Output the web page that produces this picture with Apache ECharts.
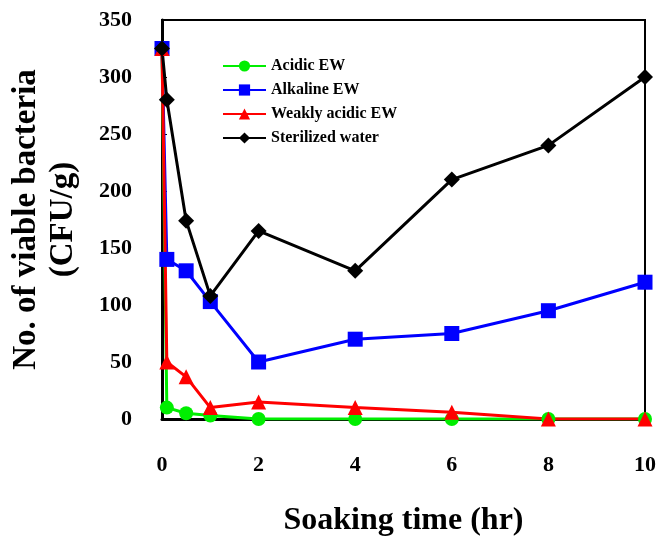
<!DOCTYPE html>
<html>
<head>
<meta charset="utf-8">
<script src="https://cdn.jsdelivr.net/npm/echarts@6/dist/echarts.min.js"></script>
<style>html,body{margin:0;padding:0;background:#fff;}#c{width:659px;height:542px;}</style>
</head>
<body>
<div id="c"></div>
<script>
var times = [0, 0.1, 0.5, 1, 2, 4, 6, 8, 10];
var acidic = [325, 10, 5, 3, 0, 0, 0, 0, 0];
var alkaline = [325, 140, 130, 103, 50, 70, 75, 95, 120];
var weaklyAcidic = [325, 50, 37, 10, 15, 10, 6, 0, 0];
var sterilized = [325, 280, 174, 108, 165, 130, 210, 240, 300];
var seriesNames = ['Acidic EW', 'Alkaline EW', 'Weakly acidic EW', 'Sterilized water'];
var xTicks = [0, 2, 4, 6, 8, 10];
var yTicks = [0, 50, 100, 150, 200, 250, 300, 350];

var font = "'Liberation Serif', 'Times New Roman', serif";
function pairs(vals) { return times.map(function (t, i) { return [t, vals[i]]; }); }

var chart = echarts.init(document.getElementById('c'));
var mk = function (name, vals, color, symbol, size) {
  return {
    name: name, type: 'line', data: pairs(vals),
    symbol: symbol, symbolSize: size,
    lineStyle: { color: color, width: 3 },
    itemStyle: { color: color },
    animation: false
  };
};
chart.setOption({
  backgroundColor: '#fff',
  grid: { left: 158, right: 13, top: 20, bottom: 121, show: true, borderColor: '#000', borderWidth: 2 },
  legend: {
    left: 217, top: 53, orient: 'vertical',
    itemWidth: 43, itemHeight: 14, itemGap: 8,
    data: seriesNames,
    textStyle: { fontFamily: font, fontWeight: 'bold', fontSize: 16, color: '#000' }
  },
  xAxis: {
    type: 'value', min: xTicks[0], max: xTicks[xTicks.length - 1], interval: 2,
    name: 'Soaking time (hr)', nameLocation: 'middle', nameGap: 86,
    nameTextStyle: { fontFamily: font, fontWeight: 'bold', fontSize: 32, color: '#000' },
    axisLine: { lineStyle: { color: '#000', width: 3 } },
    axisTick: { inside: true, length: 5, lineStyle: { color: '#000' } },
    axisLabel: { margin: 35, fontFamily: font, fontWeight: 'bold', fontSize: 22, color: '#000' },
    splitLine: { show: false }
  },
  yAxis: {
    type: 'value', min: yTicks[0], max: yTicks[yTicks.length - 1], interval: 50,
    name: 'No. of viable bacteria\n(CFU/g)', nameLocation: 'middle', nameGap: 80,
    nameTextStyle: { fontFamily: font, fontWeight: 'bold', fontSize: 33, lineHeight: 37, color: '#000' },
    axisLine: { lineStyle: { color: '#000', width: 3 } },
    axisTick: { inside: true, length: 5, lineStyle: { color: '#000' } },
    axisLabel: { margin: 30, fontFamily: font, fontWeight: 'bold', fontSize: 22, color: '#000' },
    splitLine: { show: false }
  },
  series: [
    mk(seriesNames[0], acidic, '#00ee00', 'circle', 14),
    mk(seriesNames[1], alkaline, '#0000ff', 'rect', 15),
    mk(seriesNames[2], weaklyAcidic, '#ff0000', 'triangle', 15),
    mk(seriesNames[3], sterilized, '#000000', 'diamond', 16)
  ]
});
</script>
</body>
</html>
